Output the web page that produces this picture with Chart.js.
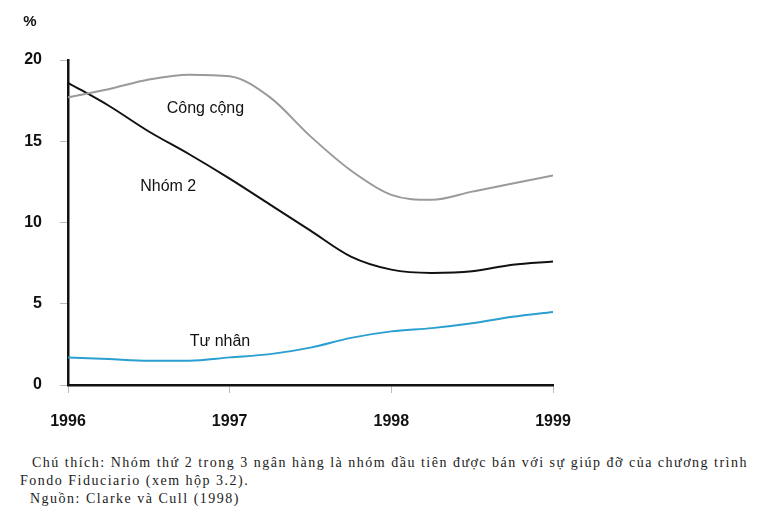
<!DOCTYPE html>
<html>
<head>
<meta charset="utf-8">
<script src="https://cdn.jsdelivr.net/npm/chart.js@4/dist/chart.umd.min.js"></script>
<style>
  body { margin: 0; background: #fff; width: 767px; height: 524px; overflow: hidden; }
  #wrap { position: relative; width: 767px; height: 440px; }
  .caption { font-family: "Liberation Serif", serif; font-size: 14px; letter-spacing: 1.5px; color: #222; line-height: 18px; margin: 0; white-space: nowrap; }
</style>
</head>
<body>
<div id="wrap"><canvas id="chart"></canvas></div>
<p class="caption" style="padding-left:32px;margin-top:14px">Chú thích: Nhóm thứ 2 trong 3 ngân hàng là nhóm đầu tiên được bán với sự giúp đỡ của chương trình</p>
<p class="caption" style="padding-left:20px">Fondo Fiduciario (xem hộp 3.2).</p>
<p class="caption" style="padding-left:30px">Nguồn: Clarke và Cull (1998)</p>
<script>
const years = [1996, 1996.25, 1996.5, 1996.75, 1997, 1997.25, 1997.5, 1997.75, 1998, 1998.25, 1998.5, 1998.75, 1999];
const congCong = [17.7, 18.2, 18.8, 19.1, 19.0, 17.7, 15.3, 13.2, 11.7, 11.4, 11.9, 12.4, 12.9];
const nhom2 = [18.6, 17.2, 15.6, 14.2, 12.7, 11.1, 9.5, 7.9, 7.1, 6.9, 7.0, 7.4, 7.6];
const tuNhan = [1.7, 1.6, 1.5, 1.5, 1.7, 1.9, 2.3, 2.9, 3.3, 3.5, 3.8, 4.2, 4.5];
const yTicks = [0, 5, 10, 15, 20];
const xTicks = [1996, 1997, 1998, 1999];

// text labels placed next to the lines, in data coordinates
const lineLabels = [
  { text: "Công cộng", x: 1996.85, y: 17.0 },
  { text: "Nhóm 2", x: 1996.62, y: 12.2 },
  { text: "Tư nhân", x: 1996.94, y: 2.7 }
];

const toPoints = vals => vals.map((v, i) => ({ x: years[i], y: v }));

const overlay = {
  id: "overlay",
  afterDraw(chart) {
    const ctx = chart.ctx;
    const xs = chart.scales.x, ys = chart.scales.y;
    ctx.save();
    ctx.fillStyle = "#111";
    ctx.font = "16px 'Liberation Sans', Arial, sans-serif";
    ctx.textAlign = "center";
    ctx.textBaseline = "middle";
    lineLabels.forEach(l => {
      ctx.fillText(l.text, xs.getPixelForValue(l.x), ys.getPixelForValue(l.y));
    });
    ctx.font = "bold 15px 'Liberation Sans', Arial, sans-serif";
    ctx.fillText("%", 30, 22);
    ctx.restore();
  }
};

new Chart(document.getElementById("chart"), {
  type: "line",
  data: {
    datasets: [
      { label: "Công cộng", data: toPoints(congCong), borderColor: "#9a9a9a", borderWidth: 2 },
      { label: "Nhóm 2", data: toPoints(nhom2), borderColor: "#111111", borderWidth: 2 },
      { label: "Tư nhân", data: toPoints(tuNhan), borderColor: "#2a9fd0", borderWidth: 2 }
    ]
  },
  options: {
    responsive: true,
    maintainAspectRatio: false,
    animation: false,
    layout: { padding: { top: 60, right: 214, left: 0, bottom: 0 } },
    elements: { point: { radius: 0 }, line: { cubicInterpolationMode: "monotone" } },
    plugins: { legend: { display: false }, tooltip: { enabled: false } },
    scales: {
      x: {
        type: "linear",
        min: 1996,
        max: 1999,
        afterBuildTicks: s => { s.ticks = xTicks.map(v => ({ value: v })); },
        afterFit: s => { s.height = 55; },
        ticks: {
          color: "#111",
          font: { family: "'Liberation Sans', Arial, sans-serif", size: 16, weight: "bold" },
          padding: 19,
          maxRotation: 0,
          callback: v => String(v)
        },
        grid: { drawOnChartArea: false, color: "#bbb", tickLength: 8 },
        border: { color: "#111", width: 2.5 }
      },
      y: {
        min: 0,
        max: 20,
        afterBuildTicks: s => { s.ticks = yTicks.map(v => ({ value: v })); },
        afterFit: s => { s.width = 68; },
        ticks: {
          color: "#111",
          font: { family: "'Liberation Sans', Arial, sans-serif", size: 16, weight: "bold" },
          padding: 18
        },
        grid: { drawOnChartArea: false, color: "#bbb", tickLength: 8 },
        border: { color: "#111", width: 2.5 }
      }
    }
  },
  plugins: [overlay]
});
</script>
</body>
</html>
